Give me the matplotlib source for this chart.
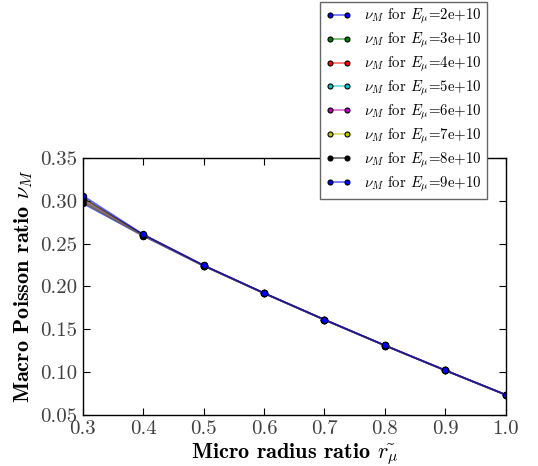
import numpy as np
import matplotlib
matplotlib.use("Agg")
import matplotlib.pyplot as plt
from matplotlib.colors import to_rgba

plt.rcParams['font.family'] = 'serif'
plt.rcParams['font.serif'] = ['cmr10']
plt.rcParams['mathtext.fontset'] = 'cm'
plt.rcParams['axes.formatter.use_mathtext'] = True

# radius ratios and Young's moduli
r_ratio = [0.3, 0.4, 0.5, 0.6, 0.7, 0.8, 0.9, 1.0]
E_values = ['2e+10', '3e+10', '4e+10', '5e+10', '6e+10', '7e+10', '8e+10', '9e+10']
colors = ['b', 'g', 'r', 'c', 'm', 'y', 'k', 'b']

# macro poisson ratio for each E
nu_2e10 = [0.2970, 0.2590, 0.2240, 0.1920, 0.1610, 0.1310, 0.1020, 0.0735]
nu_3e10 = [0.2985, 0.2593, 0.2241, 0.1920, 0.1611, 0.1310, 0.1020, 0.0735]
nu_4e10 = [0.2995, 0.2596, 0.2242, 0.1921, 0.1611, 0.1311, 0.1021, 0.0735]
nu_5e10 = [0.3005, 0.2598, 0.2243, 0.1921, 0.1612, 0.1311, 0.1021, 0.0736]
nu_6e10 = [0.3015, 0.2601, 0.2244, 0.1922, 0.1612, 0.1312, 0.1021, 0.0736]
nu_7e10 = [0.3025, 0.2603, 0.2245, 0.1922, 0.1613, 0.1312, 0.1022, 0.0736]
nu_8e10 = [0.3035, 0.2605, 0.2246, 0.1923, 0.1613, 0.1313, 0.1022, 0.0737]
nu_9e10 = [0.3060, 0.2608, 0.2247, 0.1923, 0.1614, 0.1313, 0.1022, 0.0737]
all_nu = [nu_2e10, nu_3e10, nu_4e10, nu_5e10, nu_6e10, nu_7e10, nu_8e10, nu_9e10]

fig = plt.figure(figsize=(5.38, 4.66), dpi=100)
ax = fig.add_axes([0.154, 0.1094, 0.786, 0.5516])

for nu, E, c in zip(all_nu, E_values, colors):
    ax.plot(r_ratio, nu, '-o', color=to_rgba(c, 0.6), lw=1.2, markersize=4.5,
            markerfacecolor=c, markeredgecolor='k', markeredgewidth=0.8,
            label=r'$\nu_M$ for $E_\mu$=' + E)

ax.set_xlim(0.3, 1.0)
ax.set_ylim(0.05, 0.35)
ax.set_xticks(np.arange(0.3, 1.01, 0.1))
ax.set_yticks(np.arange(0.05, 0.351, 0.05))
ax.xaxis.set_major_formatter(matplotlib.ticker.FormatStrFormatter('%.1f'))
ax.yaxis.set_major_formatter(matplotlib.ticker.FormatStrFormatter('%.2f'))
ax.tick_params(direction='in', top=True, right=True, labelsize=15, length=5, pad=4,
               labelcolor='0.25')
for s in ax.spines.values():
    s.set_linewidth(1.0)

ax.set_xlabel(r'Micro radius ratio $\tilde{r_\mu}$', fontname='cmb10', fontsize=16, labelpad=2)
ax.set_ylabel(r'Macro Poisson ratio $\nu_M$', fontname='cmb10', fontsize=16, labelpad=4)

leg = fig.legend(loc='upper right', bbox_to_anchor=(0.905, 0.996), borderaxespad=0,
                 prop={'family': 'cmr10', 'size': 10.7},
                 numpoints=2, handlelength=1.75, handletextpad=0.85,
                 labelspacing=0.3, borderpad=0.35, markerscale=0.8,
                 fancybox=False, framealpha=1)
leg.get_frame().set_edgecolor('0.4')

fig.savefig('out.png', dpi=100)
